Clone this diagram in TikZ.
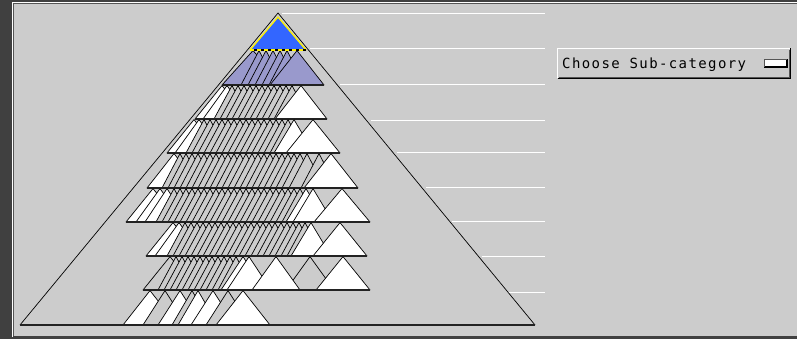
\documentclass[tikz,border=0pt]{standalone}
\usepackage{fontspec}
\newfontfamily\monofnt[LetterSpace=10]{DejaVu Sans Mono}
\definecolor{panel}{HTML}{CCCCCC}
\definecolor{darkbg}{HTML}{404040}
\definecolor{framedark}{HTML}{555555}
\definecolor{peri}{HTML}{9999CC}
\definecolor{bluetop}{HTML}{3366FF}
\definecolor{basedark}{HTML}{222222}
\colorlet{G}{panel}
\colorlet{W}{white}
\colorlet{P}{peri}
\newcommand\mytri[5]{\filldraw[tristy,fill=#5] (#3,#1+0.6) -- ({#3-#4},#2) -- ({#3+#4},#2) -- cycle;}
\newcommand\mystrp[7]{\foreach \aa in {#3,#4,...,#5}{\mytri{#1}{#2}{\aa}{#6}{#7}}}
\begin{document}
\begin{tikzpicture}[x=1pt,y=-1pt,
  tristy/.style={draw=black,line width=0.7pt,line join=round},
  basesty/.style={draw=basedark,line width=1.3pt},
  guide/.style={draw=white,line width=1pt},
  edgesty/.style={draw=black,line width=0.7pt}]
\useasboundingbox (0,0) rectangle (797,339);
% frame
\fill[darkbg] (0,0) rectangle (797,339);
\fill[panel] (13,3) rectangle (797,336);
\draw[white,line width=1pt] (12.5,337) -- (12.5,2.5) -- (797,2.5);
\draw[framedark,line width=1pt] (13.5,336) -- (13.5,3.5) -- (797,3.5);
% guide lines
\foreach \yy/\xx in {14/282,49/310,85/340,121/371,153/397,188/426,221/452,256/482,292/508}
  {\draw[guide] (\xx,\yy) -- (545,\yy);}
% big pyramid
\coordinate (apx) at (278,13);
\coordinate (bl) at (20,325);
\coordinate (br) at (535,325);
\draw[edgesty] (bl) -- (apx) -- (br);
% level 1
\mytri{50}{85}{253}{31}{P}
\mystrp{50}{85}{259}{266}{287}{18}{P}
\mytri{50}{85}{297}{27}{P}
\draw[basesty] (222,85) -- (324,85);
% level 2
\mytri{85}{119}{222}{27}{W}
\mytri{85}{119}{227}{24}{W}
\mystrp{85}{119}{232}{238}{292}{18}{G}
\mytri{85}{119}{301}{26}{W}
\draw[basesty] (195,119) -- (327,119);
% level 3
\mytri{119}{153}{194}{27}{W}
\mytri{119}{153}{199}{24}{W}
\mystrp{119}{153}{204}{210}{288}{18}{G}
\mytri{119}{153}{294}{20}{W}
\mytri{119}{153}{313}{27}{W}
\draw[basesty] (167,153) -- (340,153);
% level 4
\mytri{153}{188}{174}{27}{W}
\mystrp{153}{188}{180}{186}{300}{18}{G}
\mytri{153}{188}{307}{18}{G}
\mytri{153}{188}{319}{18}{G}
\mytri{153}{188}{331}{27}{W}
\draw[basesty] (147,188) -- (358,188);
% level 5
\mytri{188}{222}{153}{27}{W}
\mytri{188}{222}{160}{24}{W}
\mytri{188}{222}{167}{22}{W}
\mystrp{188}{222}{174}{180}{300}{18}{G}
\mytri{188}{222}{306}{20}{W}
\mytri{188}{222}{313}{20}{W}
\mytri{188}{222}{342}{28}{W}
\draw[basesty] (126,222) -- (370,222);
% level 6
\mytri{222}{256}{173}{27}{W}
\mytri{222}{256}{179}{24}{W}
\mystrp{222}{256}{185}{191}{305}{18}{G}
\mytri{222}{256}{311}{20}{W}
\mytri{222}{256}{340}{27}{W}
\draw[basesty] (146,256) -- (367,256);
% level 7
\mytri{256}{290}{170}{27}{G}
\mystrp{256}{290}{176}{182}{236}{18}{G}
\mytri{256}{290}{243}{22}{W}
\mytri{256}{290}{249}{22}{W}
\mytri{256}{290}{310}{24}{G}
\mytri{256}{290}{276}{24}{W}
\mytri{256}{290}{343}{27}{W}
\draw[basesty] (143,290) -- (370,290);
% level 8
\foreach \aa/\ww/\cc in {150/27/W,165/22/G,180/22/W,192/20/G,198/20/W,213/22/W,228/22/G,243/27/W}
  {\mytri{290}{325}{\aa}{\ww}{\cc}}
\draw[draw=basedark,line width=1.8pt] (bl) -- (br);
% top (selected) node
\coordinate (ta) at (278,17);
\coordinate (tl) at (250,50);
\coordinate (tr) at (306,50);
\fill[bluetop] (ta) -- (tr) -- (tl) -- cycle;
\draw[yellow,line width=1.3pt,line join=round] (tl) -- (ta) -- (tr);
\draw[black,line width=1.3pt] (tl) -- (tr);
\draw[yellow,line width=1.3pt,dash pattern=on 4pt off 3pt] (tl) -- (tr);
% dropdown
\fill[panel] (557,48) rectangle (790,78);
\draw[white,line width=1pt] (557.5,78) -- (557.5,48.5) -- (790,48.5);
\draw[black,line width=1pt] (558,78.5) -- (790.5,78.5) -- (790.5,48);
\draw[framedark,line width=0.6pt] (559,77.3) -- (789.3,77.3) -- (789.3,50);
\node[font=\monofnt\fontsize{14}{14}\selectfont,anchor=base west,inner sep=0pt] (dd) at (562,69) {Choose Sub-category};
\fill[white] (764,59) rectangle (787,67);
\draw[black,line width=1.3pt] (764,67) -- (787,67) -- (787,59.5);
\draw[framedark,line width=0.5pt] (764,67) -- (764,59.3) -- (787,59.3);
\end{tikzpicture}
\end{document}
